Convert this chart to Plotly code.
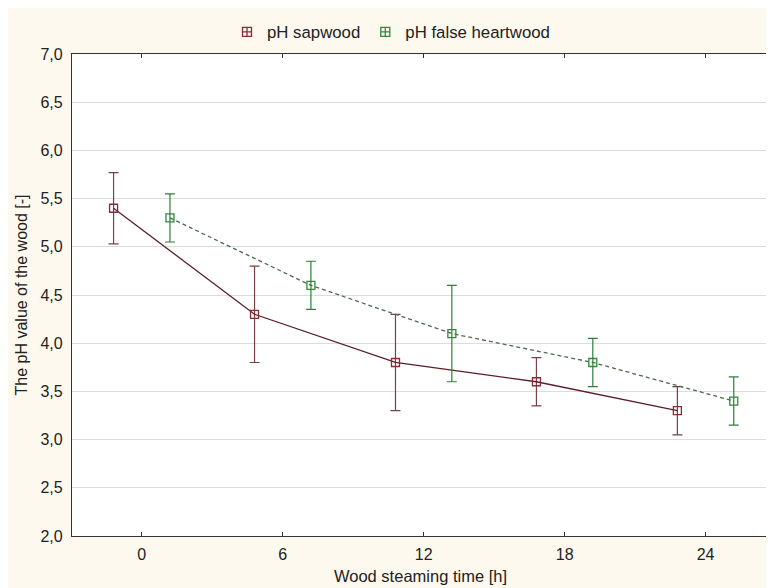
import plotly.graph_objects as go

# ---- data ----
steaming_time_h = [0, 6, 12, 18, 24]
ph_sapwood = [5.4, 4.3, 3.8, 3.6, 3.3]
ph_sapwood_err = [0.37, 0.5, 0.5, 0.25, 0.25]
ph_false_heartwood = [5.3, 4.6, 4.1, 3.8, 3.4]
ph_false_heartwood_err = [0.25, 0.25, 0.5, 0.25, 0.25]
y_tick_values = [2.0, 2.5, 3.0, 3.5, 4.0, 4.5, 5.0, 5.5, 6.0, 6.5, 7.0]

# ---- layout helpers ----
group_offset = 1.2  # horizontal dodge of the two series around each time
x_sap = [t - group_offset for t in steaming_time_h]
x_heart = [t + group_offset for t in steaming_time_h]

sap_color = "#8a2a36"
sap_line = "#5a1f28"
sap_err = "#7d3f47"
heart_color = "#2f8a3a"
heart_line = "#4a6a50"
heart_err = "#2f7f3c"
font_family = "Liberation Sans, Arial, sans-serif"

W, H = 766, 580  # page body has an 8px margin

fig = go.Figure()
fig.add_trace(go.Scatter(
    x=x_sap, y=ph_sapwood, name="pH sapwood", mode="lines+markers", showlegend=False,
    line=dict(color=sap_line, width=1.3),
    marker=dict(symbol="square-open", size=8, color=sap_color, line=dict(width=1.3)),
    error_y=dict(type="data", array=ph_sapwood_err, visible=True,
                 color=sap_err, thickness=1.2, width=5),
))
fig.add_trace(go.Scatter(
    x=x_heart, y=ph_false_heartwood, name="pH false heartwood", mode="lines+markers",
    showlegend=False,
    line=dict(color=heart_line, width=1.3, dash="4px,3px"),
    marker=dict(symbol="square-open", size=8, color=heart_color, line=dict(width=1.3)),
    error_y=dict(type="data", array=ph_false_heartwood_err, visible=True,
                 color=heart_err, thickness=1.2, width=5),
))
# legend entries (icon only)
fig.add_trace(go.Scatter(
    x=[None], y=[None], name="pH sapwood", mode="markers",
    marker=dict(symbol="square-cross-open", size=9, color=sap_color, line=dict(width=1.3)),
))
fig.add_trace(go.Scatter(
    x=[None], y=[None], name="pH false heartwood", mode="markers",
    marker=dict(symbol="square-cross-open", size=9, color=heart_color, line=dict(width=1.3)),
))

fig.add_shape(type="line", xref="paper", yref="paper", x0=1, x1=1, y0=0, y1=1,
              line=dict(color="#d8d8d8", width=1))

fig.update_layout(
    width=W, height=H,
    paper_bgcolor="#fdf9ee", plot_bgcolor="#ffffff",
    margin=dict(l=64, r=5, t=46, b=52, autoexpand=False),
    separators=",.",
    font=dict(family=font_family, size=16, color="#222222"),
    showlegend=True,
    legend=dict(orientation="h", x=(227 - 8) / W, xanchor="left", y=1 - 24 / H,
                yanchor="middle", yref="container", xref="container",
                bgcolor="rgba(0,0,0,0)", font=dict(size=16.8), itemwidth=30),
    xaxis=dict(
        range=[-2.97, 26.7], tickmode="array", tickvals=steaming_time_h,
        ticks="inside", ticklen=4, tickcolor="#333333", automargin=False,
        showline=True, linecolor="#333333", linewidth=1.3, mirror="ticks",
        showgrid=False, zeroline=False, ticklabelstandoff=4,
        title=dict(text="Wood steaming time [h]", standoff=8, font=dict(size=16.5)),
        tickfont=dict(size=16),
    ),
    yaxis=dict(
        range=[2.0, 7.0], tickmode="array", tickvals=y_tick_values, tickformat=".1f",
        ticks="", showline=True, linecolor="#333333", linewidth=1.3, automargin=False,
        showgrid=True, gridcolor="#dcdcdc", gridwidth=1, zeroline=False,
        ticklabelstandoff=5,
        title=dict(text="The pH value of the wood [-]", standoff=8, font=dict(size=16)),
        tickfont=dict(size=16),
    ),
)

fig.write_html("out.html")
